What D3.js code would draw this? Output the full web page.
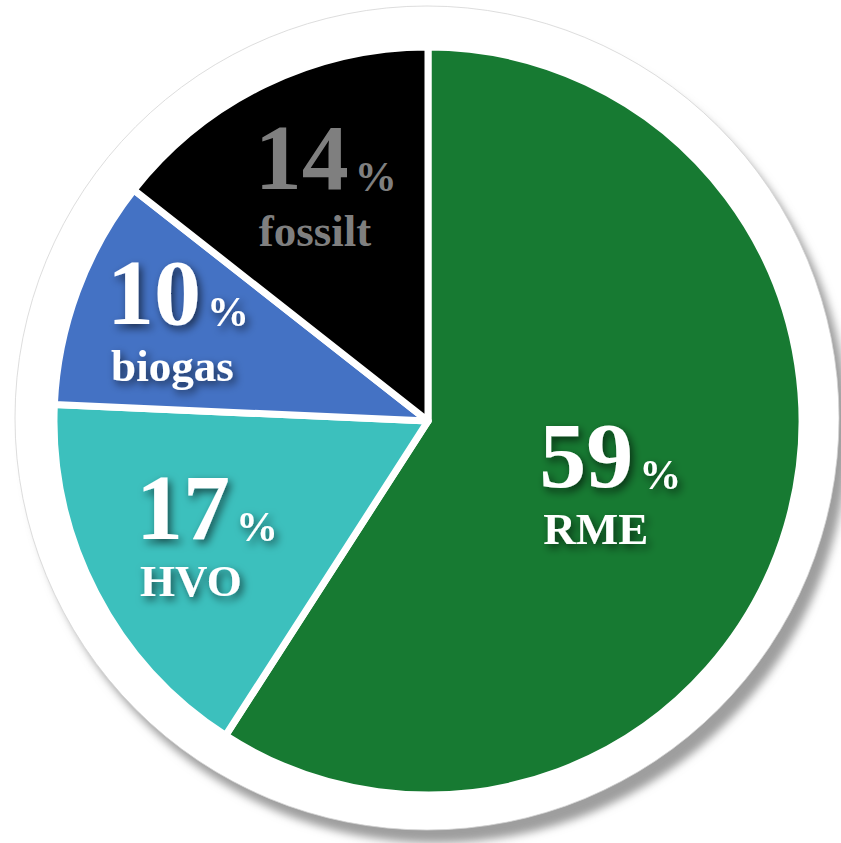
<!DOCTYPE html>
<html>
<head>
<meta charset="utf-8">
<script src="https://cdn.jsdelivr.net/npm/d3@7/dist/d3.min.js"></script>
<style>
html,body{margin:0;padding:0;background:#fff;}
svg{display:block;}
</style>
</head>
<body>
<svg id="chart" width="841" height="843"></svg>
<script>
// ---- data ----
const categories = ["RME", "HVO", "biogas", "fossilt"];
const values = [59.1, 16.6, 9.9, 14.4];          // shares
const percentLabels = ["59", "17", "10", "14"];   // printed percentages
const colors = ["#177a32", "#3cc0bd", "#4472c4", "#000000"];
const labelColors = ["#ffffff", "#ffffff", "#ffffff", "#7f7f7f"];

// ---- layout ----
const W = 841, H = 843;
const cx = 428, cy = 421, R = 374;
const ringCx = 427, ringCy = 418, ringR = 412;
const labelLayout = [ {r:191, da:3}, {r:251, da:0}, {r:271, da:1.3}, {r:257, da:2} ];

const svg = d3.select("#chart");
const defs = svg.append("defs");

const sh = defs.append("filter").attr("id","ringShadow")
  .attr("x","-20%").attr("y","-20%").attr("width","140%").attr("height","140%");
sh.append("feGaussianBlur").attr("stdDeviation", 4.5);

const ts = defs.append("filter").attr("id","textShadow")
  .attr("x","-30%").attr("y","-30%").attr("width","160%").attr("height","160%");
ts.append("feDropShadow").attr("dx",3).attr("dy",4).attr("stdDeviation",4.5)
  .attr("flood-color","#000").attr("flood-opacity",0.6);

// outer ring shadow + white disc
svg.append("circle").attr("cx", ringCx + 9).attr("cy", ringCy + 13).attr("r", ringR)
  .attr("fill", "#9e9e9e").attr("filter","url(#ringShadow)");
svg.append("circle").attr("cx", ringCx).attr("cy", ringCy).attr("r", ringR)
  .attr("fill", "#ffffff").attr("stroke", "#d4d4d4").attr("stroke-width", 0.8);

const pie = d3.pie().sort(null).value(d => d)(values);
const arc = d3.arc().innerRadius(0).outerRadius(R);

const g = svg.append("g").attr("transform", `translate(${cx},${cy})`);
g.selectAll("path.slice").data(pie).join("path")
  .attr("class","slice")
  .attr("d", arc)
  .attr("fill", (d,i) => colors[i])
  .attr("stroke", "#ffffff")
  .attr("stroke-width", 7)
  .attr("stroke-linejoin", "round");

// labels: big number + small % sign, category name below
const font = "'Liberation Serif', 'Times New Roman', serif";
pie.forEach((d, i) => {
  const L = labelLayout[i];
  const a = (d.startAngle + d.endAngle) / 2 + L.da * Math.PI / 180;
  const ax = Math.sin(a) * L.r, ay = -Math.cos(a) * L.r;
  const x0 = ax - 69, y0 = ay + 3;
  const lg = g.append("g")
    .attr("filter", i === 3 ? null : "url(#textShadow)")
    .attr("fill", labelColors[i]).attr("font-family", font).attr("font-weight", "bold");
  const t = lg.append("text").attr("x", x0).attr("y", y0);
  t.append("tspan").attr("font-size", 94).text(percentLabels[i]);
  t.append("tspan").attr("font-size", 42).attr("dx", 6).attr("dy", 2).text("%");
  lg.append("text").attr("font-size", 45).attr("x", x0 + 4).attr("y", y0 + 57).text(categories[i]);
});
</script>
</body>
</html>
